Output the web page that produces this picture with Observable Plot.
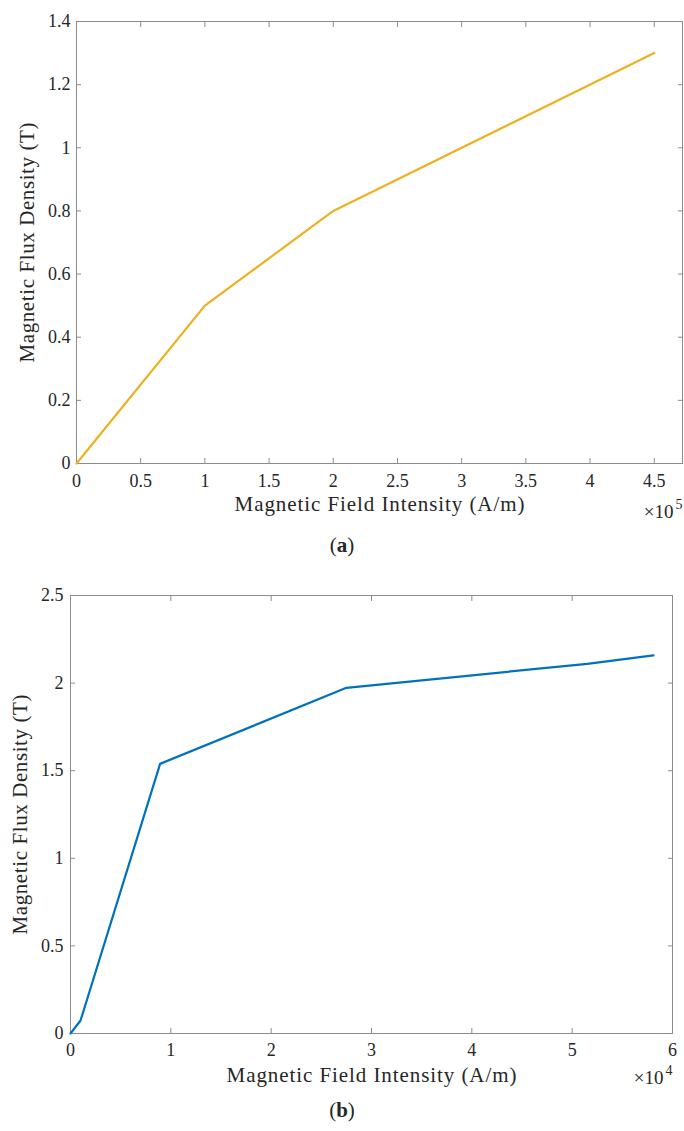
<!DOCTYPE html>
<html>
<head>
<meta charset="utf-8">
<script src="https://cdn.jsdelivr.net/npm/d3@7"></script>
<script src="https://cdn.jsdelivr.net/npm/@observablehq/plot@0.6"></script>
<style>
  html, body { margin: 0; padding: 0; background: #fff; }
  #wrap { position: relative; width: 684px; height: 1131px; font-family: "Liberation Serif", serif; color: #262626; }
  #wrap svg { position: absolute; left: 0; }
  .cap { position: absolute; left: 0; width: 684px; text-align: center; font-size: 21px; line-height: 1; }
</style>
</head>
<body>
<div id="wrap"></div>
<script>
// Chart (a)
const aField = [0, 100000, 200000, 450000];          // A/m
const aFlux = [0, 0.5, 0.8, 1.3];                     // T
const aTicksX = [0, 0.5, 1, 1.5, 2, 2.5, 3, 3.5, 4, 4.5]; // ×10^5
const aTicksY = [0, 0.2, 0.4, 0.6, 0.8, 1, 1.2, 1.4];

// Chart (b)
const bField = [0, 1000, 8930, 27500, 51500, 58100];  // A/m
const bFlux = [0, 0.074, 1.539, 1.973, 2.11, 2.158];  // T
const bTicksX = [0, 1, 2, 3, 4, 5, 6];                // ×10^4
const bTicksY = [0, 0.5, 1, 1.5, 2, 2.5];

const xLabel = "Magnetic Field Intensity (A/m)";
const yLabel = "Magnetic Flux Density (T)";

const fmt = d => String(+(+d).toFixed(2));
const axisGray = "#8c8c8c";
const SERIF = "'Liberation Serif', serif";

function chart({field, flux, scale, ticksX, ticksY, xDomain, yDomain, color, exp,
                height, mL, mR, mT, mB, xPad, yPad, yLabDx, xLabDy, expDy}) {
  const data = field.map((h, i) => ({h: h / scale, b: flux[i]}));
  const svg = Plot.plot({
    width: 684, height,
    marginLeft: mL, marginRight: mR, marginTop: mT, marginBottom: mB,
    style: {fontFamily: SERIF, fontSize: "18px", color: "#262626", background: "transparent"},
    x: {domain: xDomain},
    y: {domain: yDomain},
    marks: [
      Plot.frame({stroke: axisGray}),
      Plot.axisX({ticks: ticksX, tickSize: -5, tickPadding: xPad, tickFormat: fmt, stroke: axisGray, label: null, fontSize: 18}),
      Plot.axisX({anchor: "top", ticks: ticksX, tickSize: -5, tickFormat: () => "", stroke: axisGray, label: null}),
      Plot.axisY({ticks: ticksY, tickSize: -5, tickPadding: yPad, tickFormat: fmt, stroke: axisGray, label: null, fontSize: 18}),
      Plot.axisY({anchor: "right", ticks: ticksY, tickSize: -5, tickFormat: () => "", stroke: axisGray, label: null}),
      Plot.line(data, {x: "h", y: "b", stroke: color, strokeWidth: 2.2}),
      Plot.text([xLabel], {frameAnchor: "bottom", textAnchor: "middle", dy: xLabDy, fontSize: 21, fill: "#262626", className: "xlab"}),
      Plot.text([yLabel], {frameAnchor: "left", textAnchor: "middle", rotate: -90, dx: yLabDx, fontSize: 21, fill: "#262626", className: "ylab"}),
      Plot.text(["×10"], {frameAnchor: "bottom-right", textAnchor: "end", dx: -9, dy: expDy, fontSize: 19, fill: "#262626"}),
      Plot.text([exp], {frameAnchor: "bottom-right", textAnchor: "end", dy: expDy - 9, fontSize: 14, fill: "#262626"})
    ]
  });
  const s = d3.select(svg);
  s.selectAll("text").attr("font-family", SERIF).style("font-family", SERIF);
  s.selectAll(".xlab text, text.xlab").attr("textLength", 290).attr("lengthAdjust", "spacing");
  s.selectAll(".ylab text, text.ylab").attr("textLength", 240).attr("lengthAdjust", "spacing");
  return svg;
}

const wrap = document.getElementById("wrap");

const svgA = chart({
  field: aField, flux: aFlux, scale: 1e5, ticksX: aTicksX, ticksY: aTicksY,
  xDomain: [0, 4.72], yDomain: [0, 1.4], color: "#EDB120", exp: "5",
  height: 530, mL: 76, mR: 2, mT: 21, mB: 67, xPad: 16, yPad: 11,
  yLabDx: -49, xLabDy: 47, expDy: 54
});
svgA.style.top = "0px";
wrap.appendChild(svgA);

const capA = document.createElement("div");
capA.className = "cap";
capA.style.top = "535px";
capA.innerHTML = "(<b>a</b>)";
wrap.appendChild(capA);

const svgB = chart({
  field: bField, flux: bFlux, scale: 1e4, ticksX: bTicksX, ticksY: bTicksY,
  xDomain: [0, 6], yDomain: [0, 2.5], color: "#0072BD", exp: "4",
  height: 540, mL: 70, mR: 12, mT: 35, mB: 67, xPad: 15, yPad: 12,
  yLabDx: -50, xLabDy: 48, expDy: 50
});
svgB.style.top = "560px";
wrap.appendChild(svgB);

const capB = document.createElement("div");
capB.className = "cap";
capB.style.top = "1100px";
capB.innerHTML = "(<b>b</b>)";
wrap.appendChild(capB);
</script>
</body>
</html>
